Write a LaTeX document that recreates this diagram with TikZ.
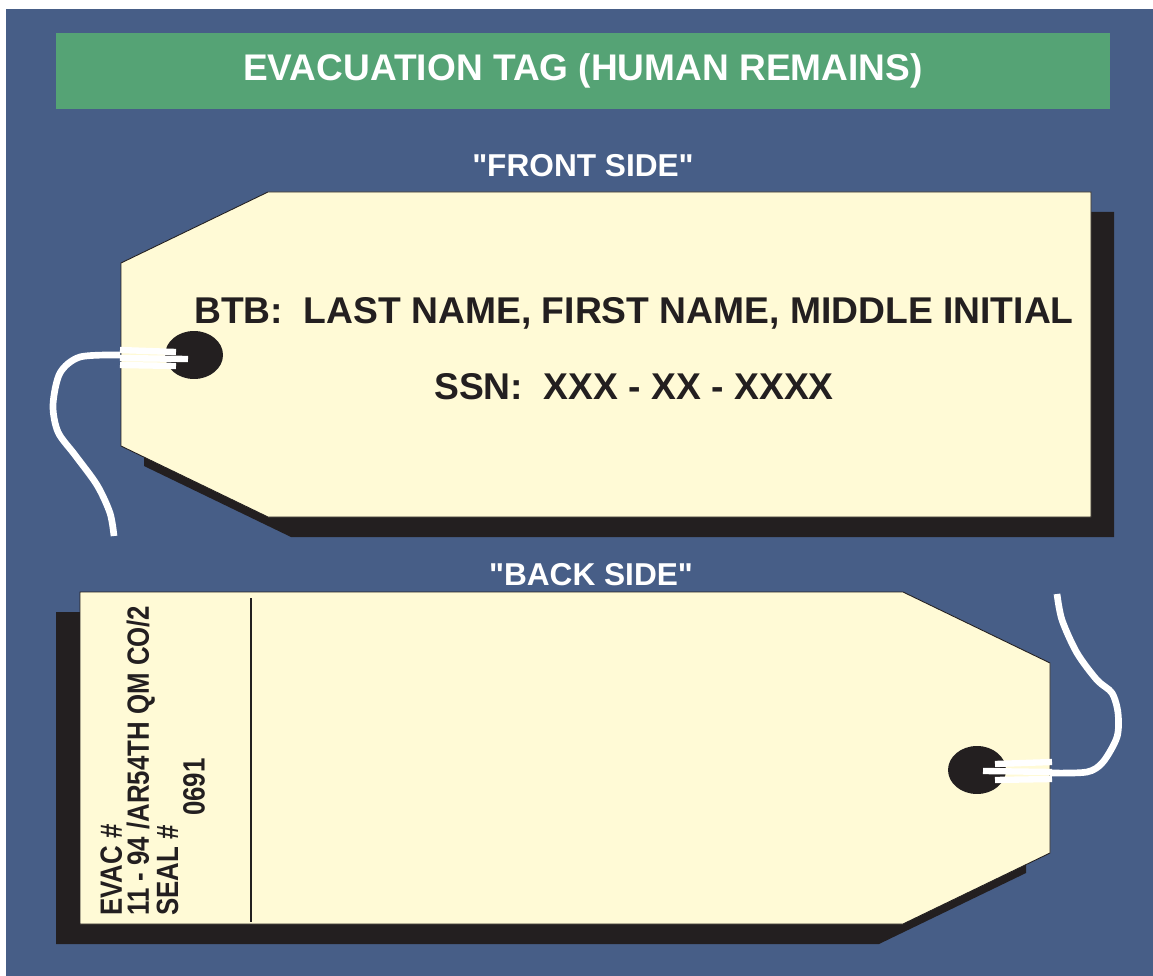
\documentclass[tikz,border=0pt]{standalone}
\usepackage{fontspec}
\setmainfont{Liberation Sans}
\newfontfamily\condensedfont[FakeStretch=0.84]{Liberation Sans}
\usetikzlibrary{shapes,positioning}
\definecolor{board}{RGB}{71,94,135}
\definecolor{bannergreen}{RGB}{85,163,117}
\definecolor{cardfill}{RGB}{255,250,214}
\definecolor{ink}{RGB}{35,31,32}
\tikzstyle{heading} = [text=white, font=\fontsize{21.1}{24}\selectfont\bfseries]
\tikzstyle{caption} = [text=white, font=\fontsize{18}{20}\selectfont\bfseries, anchor=base]
\tikzstyle{entry} = [text=ink, font=\fontsize{21.2}{26}\selectfont\bfseries, anchor=base]
\tikzstyle{backtext} = [text=ink, font=\condensedfont\fontsize{17.5}{15.4}\selectfont\bfseries, inner sep=0pt]
\tikzstyle{hole} = [ellipse, fill=ink, minimum width=1.16cm, minimum height=0.96cm, inner sep=0pt]
\tikzstyle{cardface} = [fill=cardfill, draw=ink, line width=0.5pt]
\tikzstyle{tagshadow} = [fill=ink]
\tikzstyle{strip} = [draw=white, line width=3.6pt]
\tikzstyle{cord} = [draw=white, line width=3.8pt]

\begin{document}
\begin{tikzpicture}[x=0.02cm, y=-0.02cm]
        \useasboundingbox (0,0) rectangle (1153,976);
        \fill[board] (6,9) rectangle (1153,976);
        \node [heading, fill=bannergreen, minimum width=21.08cm, minimum height=1.52cm] (title) at (583,71) {EVACUATION TAG (HUMAN REMAINS)};

        % front side
        \node [caption] (frontlabel) at (583,177) {\textquotedbl FRONT SIDE\textquotedbl};
        \fill [tagshadow, shift={(23,20)}] (268,192) -- (1091,192) -- (1091,517) -- (268,517) -- (121,446) -- (121,263) -- cycle;
        \filldraw [cardface] (268,192) -- (1091,192) -- (1091,517) -- (268,517) -- (121,446) -- (121,263) -- cycle;
        \node [hole] (fronthole) at (194,355) {};
        \node [entry] (name) at (634,324) {BTB:\ \ LAST NAME, FIRST NAME, MIDDLE INITIAL};
        \node [entry] (ssn) at (634,399) {SSN:\ \ XXX - XX - XXXX};

        \coordinate (frontknot) at (120,355);
        \coordinate (frontend) at (114,536);
        \path [strip] (120,350) -- (176,352);
        \path [strip] (120,358) -- (188,359);
        \path [strip] (120,365) -- (176,366);
        \path [cord] plot [smooth] coordinates {(frontknot) (80,357) (60,373) (53,405) (58,432) (75,455) (97,485) (110,513) (frontend)};

        % back side
        \node [caption] (backlabel) at (591,585) {\textquotedbl BACK SIDE\textquotedbl};
        \fill [tagshadow, shift={(-24,20)}] (80,592) -- (903,592) -- (1050,663) -- (1050,853) -- (903,924) -- (80,924) -- cycle;
        \filldraw [cardface] (80,592) -- (903,592) -- (1050,663) -- (1050,853) -- (903,924) -- (80,924) -- cycle;
        \draw [ink, line width=0.6pt] (251,598) -- (251,922);
        \node [backtext, rotate=90, anchor=north west, align=left] (evac) at (100,916) {EVAC \#\\11 - 94 /AR54TH QM CO/2\\SEAL \#};
        \node [backtext, rotate=90] (seal) at (194,787) {0691};
        \node [hole] (backhole) at (977,770) {};

        \coordinate (backknot) at (1050,773);
        \coordinate (backend) at (1057,594);
        \path [strip] (995,764) -- (1052,762);
        \path [strip] (983,771) -- (1052,772);
        \path [strip] (995,780) -- (1052,779);
        \path [cord] plot [smooth] coordinates {(backknot) (1087,772) (1103,762) (1117,737) (1118,713) (1112,693) (1097,680) (1077,653) (1062,620) (backend)};
      \end{tikzpicture}
\end{document}
